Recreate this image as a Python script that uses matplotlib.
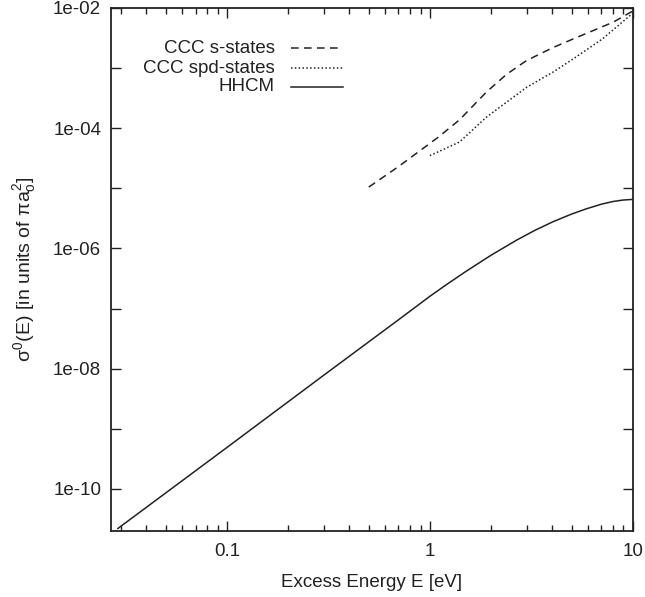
import numpy as np
import matplotlib.pyplot as plt
from matplotlib.ticker import FixedLocator, LogLocator, NullFormatter

plt.rcParams['font.family'] = ['Liberation Sans', 'DejaVu Sans']
plt.rcParams['mathtext.fontset'] = 'custom'
plt.rcParams['mathtext.rm'] = 'Liberation Sans'
plt.rcParams['mathtext.it'] = 'Liberation Sans'

# CCC s-states
e_s = [0.5, 0.7, 1.1, 1.4, 1.9, 2.39, 3.0, 4.05, 5.1, 8.0, 10.0]
sig_s = [1.05e-5, 2.3e-5, 7.1e-5, 1.38e-4, 4.0e-4, 7.9e-4, 1.34e-3,
         2.2e-3, 3.07e-3, 5.8e-3, 8.9e-3]

# CCC spd-states
e_spd = [1.0, 1.4, 1.9, 3.0, 4.05, 5.1, 7.1, 9.7, 10.0]
sig_spd = [3.5e-5, 5.9e-5, 1.53e-4, 4.8e-4, 8.6e-4, 1.43e-3, 3.07e-3, 7.5e-3, 8.3e-3]

# HHCM
e_h = [0.029, 0.1, 0.3, 0.7, 1.0, 1.2, 1.5, 2.0, 2.67, 3.3, 4.05, 5.0, 5.9,
       7.0, 8.0, 9.0, 10.0]
sig_h = [2.2e-11, 4.9e-10, 7.8e-9, 6.5e-8, 1.6e-7, 2.47e-7, 4.12e-7, 7.7e-7,
         1.37e-6, 2.01e-6, 2.79e-6, 3.74e-6, 4.56e-6, 5.45e-6, 6.05e-6,
         6.4e-6, 6.55e-6]

labels = ['CCC s-states', 'CCC spd-states', 'HHCM']
styles = [(0, (5, 3.5)), (0, (1, 1.5)), '-']

fig = plt.figure(figsize=(6.45, 5.97), dpi=100)
ax = fig.add_axes([0.172, 0.1106, 0.809, 0.876])

series = [(e_s, sig_s), (e_spd, sig_spd), (e_h, sig_h)]
for (x, y), ls in zip(series, styles):
    ax.plot(x, y, color='#222222', lw=1.1, linestyle=ls)

ax.set_xscale('log')
ax.set_yscale('log')
ax.set_xlim(0.0268, 10)
ax.set_ylim(2e-11, 1e-2)

ax.xaxis.set_major_locator(FixedLocator([0.1, 1, 10]))
ax.xaxis.set_major_formatter(plt.FuncFormatter(lambda v, p: '%g' % v))
ax.xaxis.set_minor_locator(LogLocator(base=10, subs=np.arange(2, 10)))
ax.xaxis.set_minor_formatter(NullFormatter())

ax.yaxis.set_major_locator(FixedLocator([10.0 ** k for k in range(-10, -1)]))
ax.yaxis.set_minor_locator(FixedLocator([]))
ax.yaxis.set_major_formatter(plt.FuncFormatter(
    lambda v, p: ('1e-%02d' % round(-np.log10(v))) if round(-np.log10(v)) % 2 == 0 else ''))

ax.tick_params(which='both', direction='in', top=True, right=True, labelsize=13.5,
               color='#222222', labelcolor='#222222')
ax.tick_params(which='major', length=7, width=1, pad=7)
ax.tick_params(axis='x', which='major', pad=9)
ax.tick_params(which='minor', length=4, width=1)
for s in ax.spines.values():
    s.set_linewidth(1.3)
    s.set_color('#222222')

ax.set_xlabel('Excess Energy E [eV]', fontsize=13.5, color='#222222', labelpad=10)
ax.set_ylabel(r'$\sigma^0$(E) [in units of $\pi a_o^2$]', fontsize=14, color='#222222',
              labelpad=11)

# gnuplot-style key: text right-aligned, sample to the right
rows = [0.9235, 0.885, 0.849]
for lab, ls, yy in zip(labels, styles, rows):
    ax.text(0.314, yy, lab, transform=ax.transAxes, ha='right', va='center',
            fontsize=13.5, color='#222222')
    ax.plot([0.345, 0.4445], [yy, yy], transform=ax.transAxes, color='#222222',
            lw=1.1, linestyle=ls)

fig.savefig('out.png', dpi=100)
